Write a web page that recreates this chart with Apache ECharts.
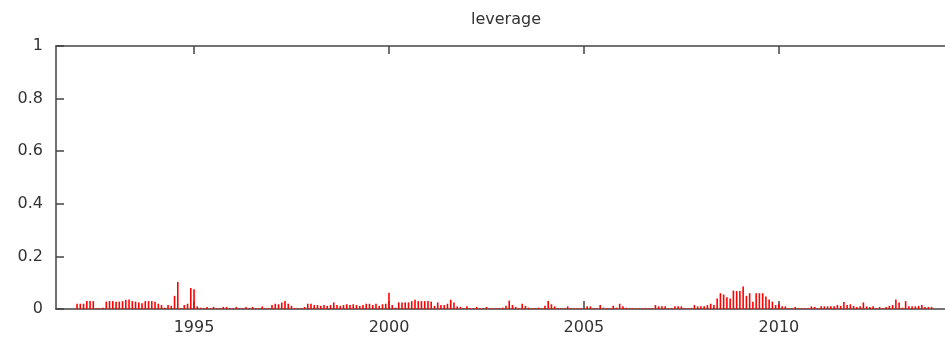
<!DOCTYPE html>
<html>
<head>
<meta charset="utf-8">
<title>leverage</title>
<script src="https://cdn.jsdelivr.net/npm/echarts@6/dist/echarts.min.js"></script>
<style>
  html, body { margin: 0; padding: 0; background: #fff; }
  #chart { width: 945px; height: 341px; }
</style>
</head>
<body>
<div id="chart"></div>
<script>
// monthly series, Jan 1992 .. Dec 2013
const startYear = 1992;
const leverage = [
  // 1992
  0.02, 0.02, 0.02, 0.03, 0.03, 0.03, 0.003, 0.003, 0.005, 0.028, 0.03, 0.03,
  // 1993
  0.028, 0.028, 0.03, 0.035, 0.036, 0.03, 0.028, 0.025, 0.022, 0.03, 0.03, 0.03,
  // 1994
  0.028, 0.02, 0.015, 0.005, 0.015, 0.012, 0.05, 0.103, 0.003, 0.015, 0.02, 0.08,
  // 1995
  0.075, 0.01, 0.005, 0.003, 0.008, 0.003, 0.008, 0.003, 0.003, 0.008, 0.008, 0.003,
  // 1996
  0.003, 0.008, 0.003, 0.003, 0.008, 0.003, 0.008, 0.003, 0.003, 0.01, 0.003, 0.003,
  // 1997
  0.015, 0.02, 0.018, 0.025, 0.03, 0.02, 0.012, 0.003, 0.003, 0.003, 0.008, 0.02,
  // 1998
  0.02, 0.015, 0.015, 0.012, 0.015, 0.012, 0.015, 0.025, 0.015, 0.012, 0.015, 0.018,
  // 1999
  0.015, 0.018, 0.015, 0.012, 0.015, 0.02, 0.02, 0.015, 0.02, 0.012, 0.018, 0.02,
  // 2000
  0.062, 0.015, 0.005, 0.025, 0.025, 0.025, 0.025, 0.03, 0.035, 0.03, 0.03, 0.03,
  // 2001
  0.03, 0.028, 0.012, 0.025, 0.015, 0.015, 0.02, 0.035, 0.025, 0.01, 0.008, 0.003,
  // 2002
  0.01, 0.003, 0.003, 0.008, 0.003, 0.003, 0.008, 0.003, 0.003, 0.003, 0.003, 0.005,
  // 2003
  0.012, 0.032, 0.015, 0.008, 0.003, 0.02, 0.012, 0.005, 0.003, 0.003, 0.005, 0.003,
  // 2004
  0.012, 0.03, 0.018, 0.01, 0.003, 0.003, 0.003, 0.01, 0.003, 0.003, 0.003, 0.003,
  // 2005
  0.003, 0.01, 0.01, 0.003, 0.003, 0.015, 0.005, 0.003, 0.003, 0.012, 0.005, 0.02,
  // 2006
  0.01, 0.005, 0.003, 0.003, 0.003, 0.003, 0.003, 0.003, 0.003, 0.003, 0.015, 0.01,
  // 2007
  0.01, 0.01, 0.003, 0.003, 0.01, 0.01, 0.01, 0.003, 0.003, 0.003, 0.015, 0.01,
  // 2008
  0.01, 0.01, 0.015, 0.02, 0.015, 0.04, 0.06, 0.055, 0.045, 0.04, 0.07, 0.068,
  // 2009
  0.068, 0.086, 0.05, 0.06, 0.028, 0.06, 0.06, 0.06, 0.048, 0.036, 0.028, 0.015,
  // 2010
  0.018, 0.01, 0.01, 0.003, 0.003, 0.008, 0.003, 0.003, 0.003, 0.003, 0.01, 0.008,
  // 2011
  0.003, 0.01, 0.01, 0.01, 0.01, 0.01, 0.015, 0.012, 0.027, 0.015, 0.018, 0.012,
  // 2012
  0.008, 0.01, 0.025, 0.01, 0.008, 0.01, 0.003, 0.008, 0.003, 0.008, 0.012, 0.015,
  // 2013
  0.036, 0.025, 0.005, 0.03, 0.01, 0.01, 0.01, 0.012, 0.015, 0.008, 0.008, 0.008
];
const yearTicks = [1995, 2000, 2005, 2010];
const yTicks = [0, 0.2, 0.4, 0.6, 0.8, 1];

const points = leverage.map((v, i) => [startYear + i / 12, v]);

const chart = echarts.init(document.getElementById("chart"));

const axisCol = "#444";
const textCol = "#333";
const font = "DejaVu Sans";

chart.setOption({
  animation: false,
  title: {
    text: "leverage",
    left: 466,
    top: 7,
    textStyle: { fontFamily: font, fontSize: 16, fontWeight: "normal", color: textCol }
  },
  grid: { left: 56, right: 0, top: 46, bottom: 32 },
  xAxis: [
    {
      type: "value",
      position: "bottom",
      min: 1991.46,
      max: 2014.26,
      splitLine: { show: false },
      axisLine: { lineStyle: { color: axisCol, width: 1.5 } },
      axisTick: { inside: true, length: 8, customValues: yearTicks, lineStyle: { color: axisCol, width: 1.5 } },
      axisLabel: {
        customValues: yearTicks,
        formatter: (v) => String(v),
        margin: 11,
        fontFamily: font,
        fontSize: 16,
        color: textCol
      }
    },
    {
      type: "value",
      position: "top",
      min: 1991.46,
      max: 2014.26,
      splitLine: { show: false },
      axisLine: { lineStyle: { color: axisCol, width: 1.5 } },
      axisTick: { inside: true, length: 8, customValues: yearTicks, lineStyle: { color: axisCol, width: 1.5 } },
      axisLabel: { show: false }
    }
  ],
  yAxis: {
    type: "value",
    min: 0,
    max: 1,
    interval: 0.2,
    splitLine: { show: false },
    axisLine: { show: true, lineStyle: { color: axisCol, width: 1.5 } },
    axisTick: { show: true, inside: true, length: 8, lineStyle: { color: axisCol, width: 1.5 } },
    axisLabel: {
      formatter: (v) => String(+v.toFixed(1)),
      margin: 13,
      fontFamily: font,
      fontSize: 16,
      color: textCol
    }
  },
  series: [
    {
      name: "leverage",
      type: "bar",
      xAxisIndex: 0,
      barWidth: 1.6,
      itemStyle: { color: "#ff0000" },
      data: points
    }
  ]
});
</script>
</body>
</html>
